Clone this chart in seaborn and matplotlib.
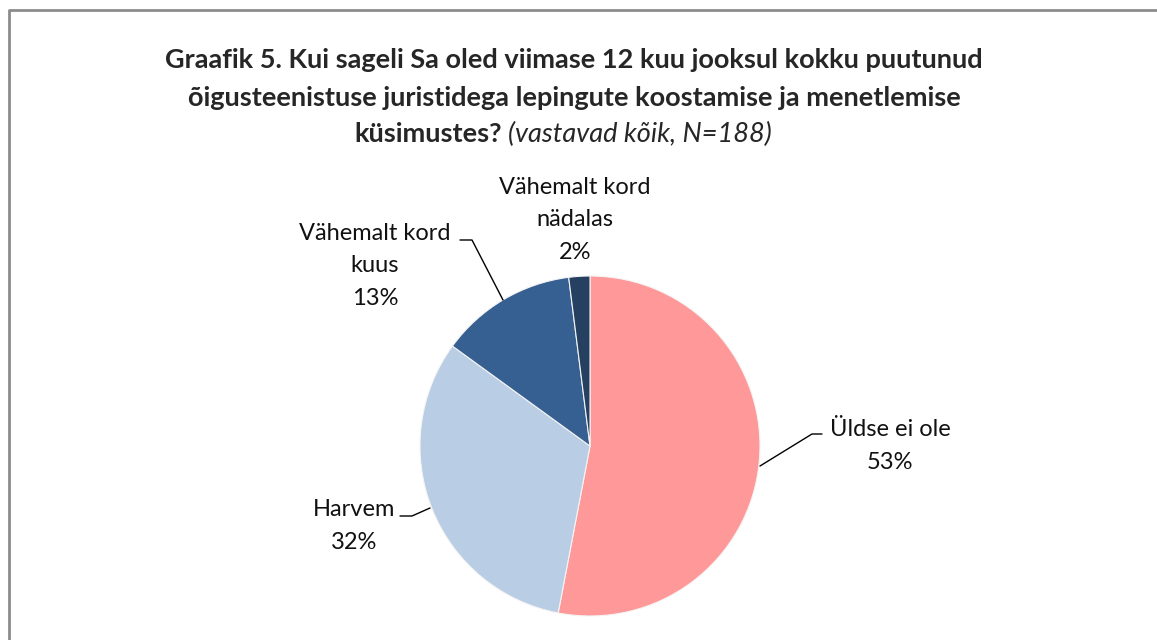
import matplotlib
matplotlib.use("Agg")
import matplotlib.pyplot as plt
import seaborn as sns

# Data
labels = ["Üldse ei ole", "Harvem", "Vähemalt kord\nkuus", "Vähemalt kord\nnädalas"]
values = [53, 32, 13, 2]
colors = ["#FF9999", "#B9CDE5", "#376092", "#254061"]

# Style
sns.set_style("white")
plt.rcParams["font.family"] = ["Lato", "DejaVu Sans"]

W, H = 1157, 640
fig = plt.figure(figsize=(W / 100, H / 100), dpi=100)
ax = fig.add_axes([0, 0, 1, 1])

# Frame (only left and top edges visible)
ax.plot([8.5, 8.5, W + 5], [-5, H - 9.5, H - 9.5], color="#8c8c8c", lw=2, solid_capstyle="butt")

# Pie
cx, cy, r = 590, H - 446, 170
ax.pie(values, colors=colors, startangle=90, counterclock=False,
       center=(cx, cy), radius=r, frame=True,
       wedgeprops={"linewidth": 0.8, "edgecolor": "#f4f4f4"})
ax.set_xlim(0, W)
ax.set_ylim(0, H)
ax.set_aspect("equal")
ax.axis("off")

fs = 17
pct = [f"{v}%" for v in values]

# Label texts (pixel positions from the top)
def label(x, y, txt):
    ax.text(x, H - y, txt, ha="center", va="center", fontsize=fs, linespacing=1.7, color="#111111")

label(890, 446, labels[0] + "\n" + pct[0])
label(354, 526, labels[1] + "\n" + pct[1])
label(375, 266, labels[2] + "\n" + pct[2])
label(575, 220, labels[3] + "\n" + pct[3])

# Leader lines
def leader(pts):
    ax.plot([p[0] for p in pts], [H - p[1] for p in pts], color="black", lw=1)

leader([(822, 434), (812, 434), (760, 466)])
leader([(400, 516), (412, 516), (430, 508)])
leader([(460, 240), (472, 240), (503, 300)])

# Title
tfs = 19.5
fig.text(574 / W, 1 - 60 / H, "Graafik 5. Kui sageli Sa oled viimase 12 kuu jooksul kokku puutunud",
         ha="center", va="center", fontsize=tfs, fontweight="bold")
fig.text(574 / W, 1 - 98 / H, "õigusteenistuse juristidega lepingute koostamise ja menetlemise",
         ha="center", va="center", fontsize=tfs, fontweight="bold")
fig.text(502 / W, 1 - 134 / H, "küsimustes?", ha="right", va="center", fontsize=tfs, fontweight="bold")
fig.text(508 / W, 1 - 134 / H, "(vastavad kõik, N=188)", ha="left", va="center",
         fontsize=tfs, fontstyle="italic")

fig.savefig("out.png", dpi=100)
